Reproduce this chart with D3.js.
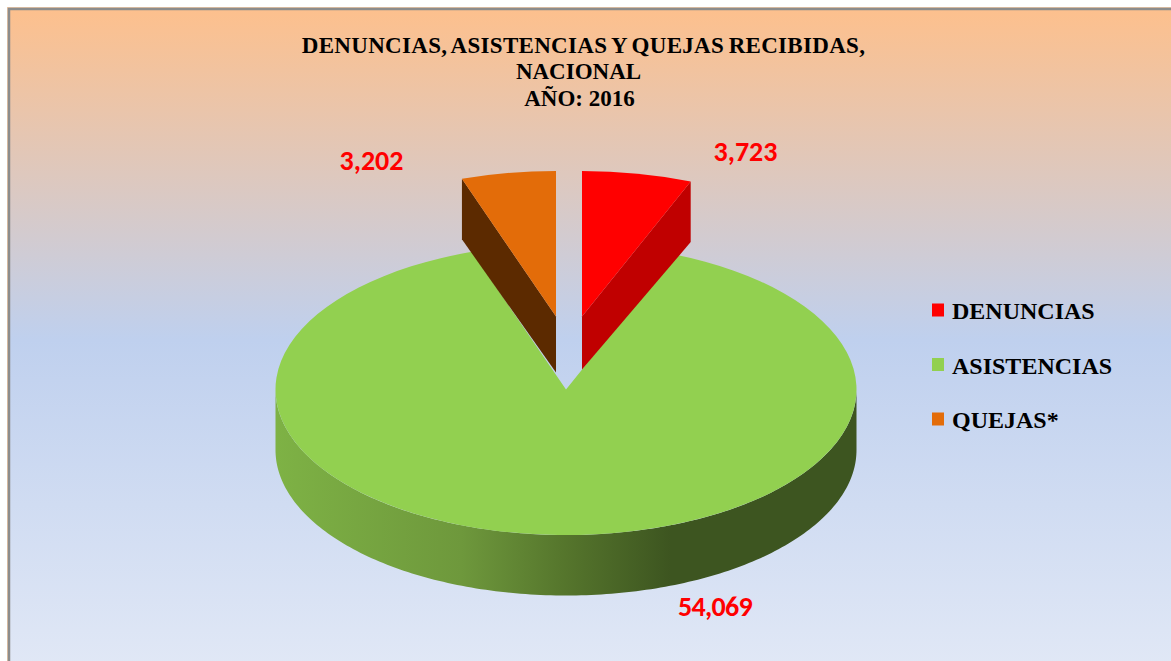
<!DOCTYPE html>
<html><head><meta charset="utf-8">
<script src="https://cdn.jsdelivr.net/npm/d3@7/dist/d3.min.js"></script>
<style>html,body{margin:0;padding:0;background:#fff;overflow:hidden}svg{display:block}</style>
</head><body><svg id="c" width="1171" height="661"></svg>
<script>
const categories = ["DENUNCIAS", "ASISTENCIAS", "QUEJAS*"];
const values = [3723, 54069, 3202];
const valueLabels = ["3,723", "54,069", "3,202"];
const topColors = ["#FF0000", "#92D050", "#E36C09"];
const sideColors = ["#C00000", "url(#wall)", "#5C2A00"];
const titleLines = ["DENUNCIAS, ASISTENCIAS Y QUEJAS RECIBIDAS,", "NACIONAL", "AÑO: 2016"];

const W = 1171, H = 661;
const svg = d3.select("#c");
const defs = svg.append("defs");
const rx = 290.5, ry = 145.5, depth = 60.5, cx = 566, cy = 389.5;
const bg = defs.append("linearGradient").attr("id","bg").attr("x1",0).attr("y1",0).attr("x2",0).attr("y2",1);
[[0,"#FDC08D"],[0.5,"#BFD0EE"],[1,"#E1E8F6"]].forEach(s=>bg.append("stop").attr("offset",s[0]).attr("stop-color",s[1]));
const wall = defs.append("linearGradient").attr("id","wall").attr("gradientUnits","userSpaceOnUse")
  .attr("x1",-rx).attr("x2",rx).attr("y1",0).attr("y2",0);
[[0,"#7EB245"],[0.32,"#6E983C"],[0.5,"#55752C"],[0.68,"#3D5520"],[1,"#3D5520"]].forEach(s=>wall.append("stop").attr("offset",s[0]).attr("stop-color",s[1]));

svg.append("rect").attr("x",7.5).attr("y",7.5).attr("width",W).attr("height",H).attr("fill","none")
  .attr("stroke","#EDC7A6").attr("stroke-width",1);
svg.append("rect").attr("x",9).attr("y",9).attr("width",W).attr("height",H).attr("fill","url(#bg)")
  .attr("stroke","#8C8C8C").attr("stroke-width",2.5);

const offsets = [[16,-73],[0,0],[-10,-73]];
const apexDepth = [53,0,56];
const pie = d3.pie().sort(null).startAngle(0).endAngle(2*Math.PI)(values);
const arc = d3.arc().innerRadius(0).outerRadius(rx);
const px = a => rx*Math.sin(a), py = a => -ry*Math.cos(a);

function drawSlice(i){
  const d = pie[i], [ox,oy] = offsets[i];
  const g = svg.append("g").attr("transform",`translate(${cx+ox},${cy+oy})`);
  const ln = d3.line();
  if(i === 1){
    const aS = d3.range(0,181).map(k=>Math.PI/2 + k*Math.PI/180);
    const up = aS.map(a=>[px(a),py(a)]), dn = aS.slice().reverse().map(a=>[px(a),py(a)+depth]);
    g.append("path").attr("d",ln(up.concat(dn))+"Z").attr("fill",sideColors[i]);
  } else {
    const a = i === 0 ? d.endAngle : d.startAngle;
    g.append("path").attr("d",ln([[0,0],[px(a),py(a)],[px(a),py(a)+depth],[0,apexDepth[i]]])+"Z").attr("fill",sideColors[i]);
  }
  g.append("path").attr("d",arc(d)).attr("transform",`scale(1,${ry/rx})`).attr("fill",topColors[i]);
}
[1,0,2].forEach(drawSlice);

const serif = "'Liberation Serif','Times New Roman',serif";
const sans = "Carlito,'Open Sans','Liberation Sans',sans-serif";
svg.append("g").selectAll("text").data(titleLines).join("text")
  .attr("x",(d,i)=>[583.5,578.5,579.5][i]).attr("y",(d,i)=>[53,79,106][i]).attr("text-anchor","middle")
  .attr("font-family",serif).attr("font-weight","bold").attr("font-size",23)
  .attr("word-spacing",(d,i)=>i===0?-1.5:0).attr("letter-spacing",(d,i)=>i===0?0.3:0).attr("fill","#000")
  .text(d=>d);

const labelPos = [[745.5,161],[715,616],[371.5,170]];
svg.append("g").selectAll("text").data(valueLabels).join("text")
  .attr("x",(d,i)=>labelPos[i][0]).attr("y",(d,i)=>labelPos[i][1]).attr("text-anchor","middle")
  .attr("font-family",sans).attr("font-weight","bold").attr("font-size",28).attr("fill","#FF0000")
  .attr("letter-spacing",(d,i)=>i===1?-0.7:0)
  .text(d=>d);

const legY = d3.scaleOrdinal().domain(categories).range([310,364.5,419]);
const leg = svg.append("g").selectAll("g").data(categories).join("g");
leg.append("rect").attr("x",932).attr("y",d=>legY(d)-6.5).attr("width",12).attr("height",13)
  .attr("fill",(d,i)=>topColors[i]);
leg.append("text").attr("x",952).attr("y",d=>legY(d)+9).attr("font-family",serif).attr("font-weight","bold")
  .attr("font-size",24).attr("fill","#000").text(d=>d);
</script></body></html>
